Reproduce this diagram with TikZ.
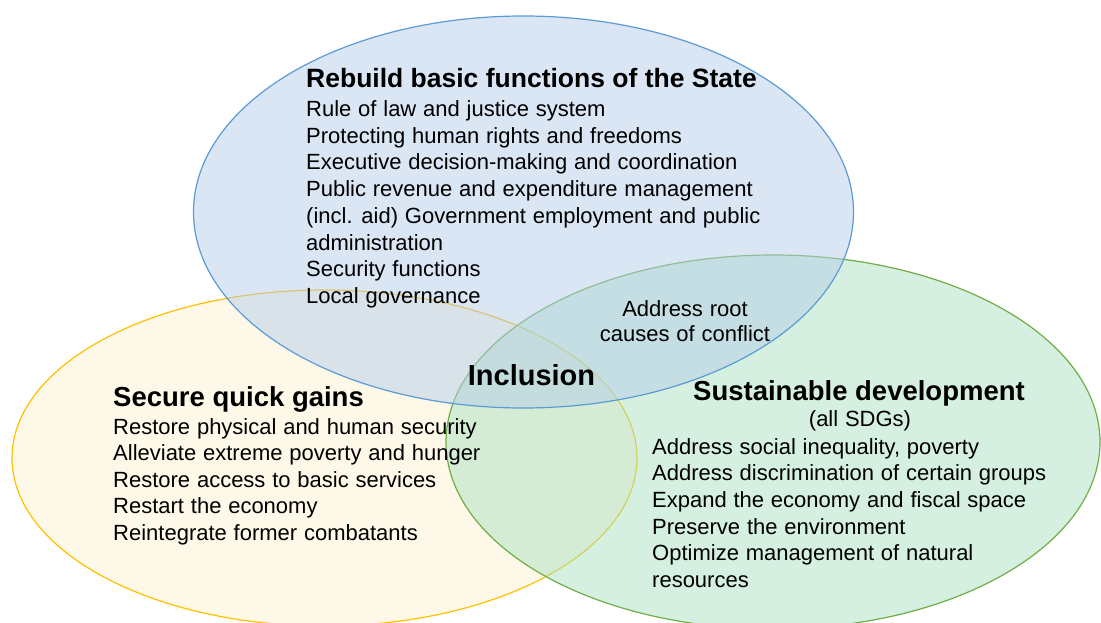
\documentclass[tikz,border=0pt]{standalone}
\usepackage{fontspec}
\setmainfont{Liberation Sans}
\definecolor{bluefill}{HTML}{B5CDE9}
\definecolor{bluedraw}{HTML}{5B9BD5}
\definecolor{yelfill}{HTML}{FDF1D1}
\definecolor{yeldraw}{HTML}{FFC000}
\definecolor{grnfill}{HTML}{ABE1C1}
\definecolor{grndraw}{HTML}{70AD47}
\newcommand{\mybodyfont}{\fontsize{22}{26.7}\selectfont\spaceskip=6.8pt plus 1pt minus 1pt\relax}
\begin{document}
\begin{tikzpicture}[x=1pt,y=-1pt,
  circ/.style={line width=1.2pt, fill opacity=0.5, draw opacity=1},
  body/.style={anchor=base west, inner sep=0pt, text=black, font=\mybodyfont},
  bodyc/.style={body, anchor=base},
  head/.style={anchor=base west, inner sep=0pt, text=black, font=\bfseries\fontsize{#1}{#1}\selectfont},
  headc/.style={head=#1, anchor=base}]
\useasboundingbox (0,0) rectangle (1101,623);
\begin{scope}
\clip (0,0) rectangle (1101,623);
% ellipses (yellow, green, blue on top)
\path[circ, draw=yeldraw, fill=yelfill] (324.5,458) ellipse [x radius=312.5pt, y radius=168pt];
\path[circ, draw=grndraw, fill=grnfill] (773,442) ellipse [x radius=327pt, y radius=187pt];
\path[circ, draw=bluedraw, fill=bluefill] (523.5,212) ellipse [x radius=330pt, y radius=196pt];
\end{scope}

% Rebuild basic functions of the State
\node[head=26.5] (bt) at (306,88) {Rebuild basic functions of the State};
\node[body] (b1) at (306,116.5) {Rule of law and justice system};
\node[body] (b2) at (306,143.2) {Protecting human rights and freedoms};
\node[body] (b3) at (306,169.9) {Executive decision-making and coordination};
\node[body] (b4) at (306,196.6) {Public revenue and expenditure management};
\node[body] (b5) at (306,223.3) {(incl. aid) Government employment and public};
\node[body] (b6) at (306,250) {administration};
\node[body] (b7) at (306,276.7) {Security functions};
\node[body] (b8) at (306,303.4) {Local governance};

% Address root causes
\node[bodyc] (r1) at (685,316) {Address root};
\node[bodyc] (r2) at (685,341) {causes of conflict};

% Inclusion
\node[headc=29] (inc) at (531.5,385) {Inclusion};

% Secure quick gains
\node[head=27.5] (yt) at (113,406) {Secure quick gains};
\node[body] (y1) at (113,434) {Restore physical and human security};
\node[body] (y2) at (113,460.5) {Alleviate extreme poverty and hunger};
\node[body] (y3) at (113,487) {Restore access to basic services};
\node[body] (y4) at (113,513.5) {Restart the economy};
\node[body] (y5) at (113,540) {Reintegrate former combatants};

% Sustainable development
\node[headc=27.5] (gt) at (859,400) {Sustainable development};
\node[bodyc] (gs) at (860,426.7) {(all SDGs)};
\node[body] (g1) at (652,454) {Address social inequality, poverty};
\node[body] (g2) at (652,480.7) {Address discrimination of certain groups};
\node[body] (g3) at (652,507.4) {Expand the economy and fiscal space};
\node[body] (g4) at (652,534.1) {Preserve the environment};
\node[body] (g5) at (652,560.8) {Optimize management of natural};
\node[body] (g6) at (652,587.5) {resources};
\end{tikzpicture}
\end{document}
